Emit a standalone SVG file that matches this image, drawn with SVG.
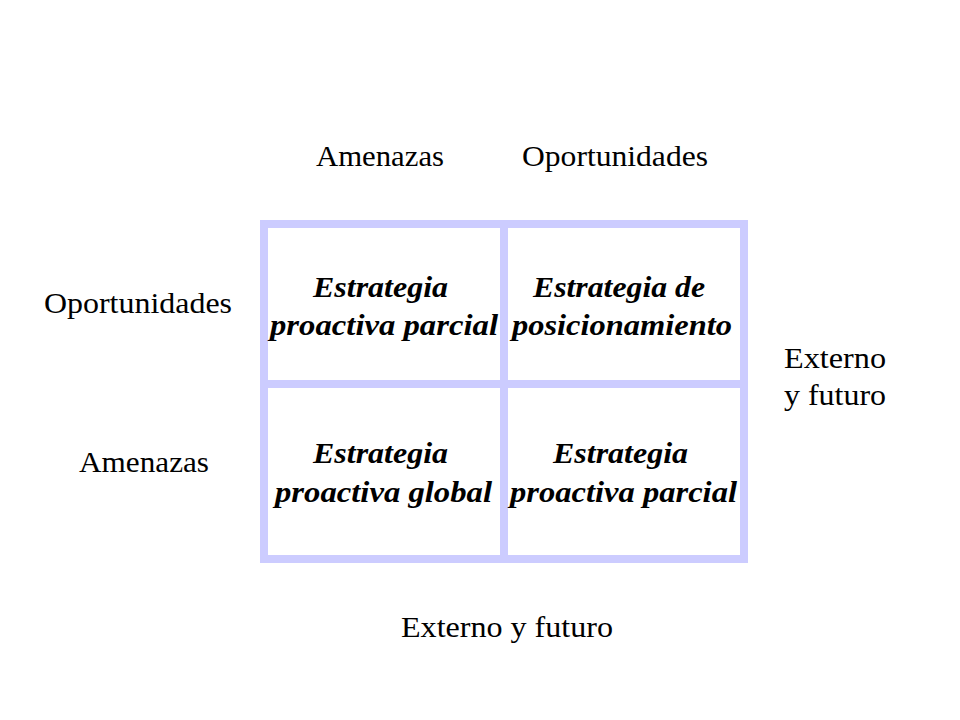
<svg xmlns="http://www.w3.org/2000/svg" width="960" height="720" viewBox="0 0 960 720">
<style>
.lbl{font-family:"Liberation Serif","Times New Roman",serif;font-size:30px;fill:#000;text-anchor:middle}
.cell{font-family:"Liberation Serif","Times New Roman",serif;font-size:30px;font-weight:bold;font-style:italic;fill:#000;text-anchor:middle}
.grid{fill:none;stroke:#ccccff;stroke-width:8}
</style>
<rect width="960" height="720" fill="#fff"/>
<g id="grid">
<rect class="grid" x="264" y="224" width="480" height="335"/>
<line class="grid" x1="504" y1="224" x2="504" y2="559"/>
<line class="grid" x1="264" y1="384" x2="744" y2="384"/>
</g>
<g id="labels">
<text class="lbl" x="380" y="166" textLength="128" lengthAdjust="spacingAndGlyphs">Amenazas</text>
<text class="lbl" x="615" y="166" textLength="186" lengthAdjust="spacingAndGlyphs">Oportunidades</text>
<text class="lbl" x="138" y="313" textLength="188" lengthAdjust="spacingAndGlyphs">Oportunidades</text>
<text class="lbl" x="144" y="472" textLength="130" lengthAdjust="spacingAndGlyphs">Amenazas</text>
<text class="lbl" x="835" y="368" textLength="102" lengthAdjust="spacingAndGlyphs">Externo</text>
<text class="lbl" x="835" y="405" textLength="102" lengthAdjust="spacingAndGlyphs">y futuro</text>
<text class="lbl" x="507" y="637" textLength="212" lengthAdjust="spacingAndGlyphs">Externo y futuro</text>
</g>
<g id="cell-tl">
<text class="cell" x="380.5" y="297" textLength="135" lengthAdjust="spacingAndGlyphs">Estrategia</text>
<text class="cell" x="384" y="335" textLength="228" lengthAdjust="spacingAndGlyphs">proactiva parcial</text>
</g>
<g id="cell-tr">
<text class="cell" x="619" y="297" textLength="172" lengthAdjust="spacingAndGlyphs">Estrategia de</text>
<text class="cell" x="622" y="335" textLength="220" lengthAdjust="spacingAndGlyphs">posicionamiento</text>
</g>
<g id="cell-bl">
<text class="cell" x="380.5" y="463" textLength="135" lengthAdjust="spacingAndGlyphs">Estrategia</text>
<text class="cell" x="383.5" y="502" textLength="217" lengthAdjust="spacingAndGlyphs">proactiva global</text>
</g>
<g id="cell-br">
<text class="cell" x="620.5" y="463" textLength="135" lengthAdjust="spacingAndGlyphs">Estrategia</text>
<text class="cell" x="623.5" y="502" textLength="227" lengthAdjust="spacingAndGlyphs">proactiva parcial</text>
</g>
</svg>
